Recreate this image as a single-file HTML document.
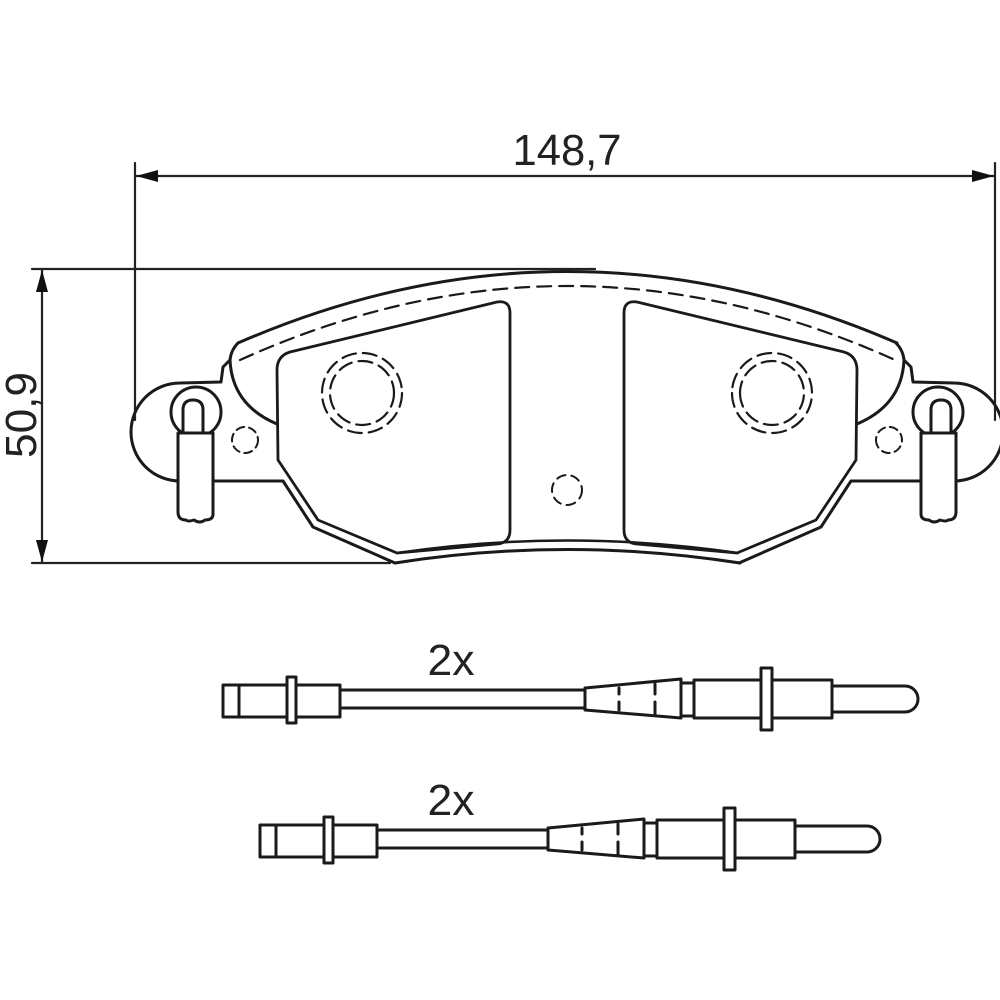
<!DOCTYPE html>
<html><head><style>html,body{margin:0;padding:0;background:#fff}svg{display:block}</style></head>
<body>
<svg width="1000" height="1000" viewBox="0 0 1000 1000" xmlns="http://www.w3.org/2000/svg" fill="none" stroke="#1a1a1a" stroke-linejoin="round" stroke-linecap="round">
<g stroke-width="2.2" stroke="#222">
<line x1="135" y1="163" x2="135" y2="420"/>
<line x1="995" y1="163" x2="995" y2="420"/>
<line x1="135" y1="176" x2="995" y2="176"/>
<line x1="32" y1="269" x2="595" y2="269"/>
<line x1="32" y1="563" x2="390" y2="563"/>
<line x1="42" y1="269" x2="42" y2="563"/>
</g>
<g fill="#111" stroke="none">
<polygon points="136,176 158,170 158,182"/>
<polygon points="994,176 972,170 972,182"/>
<polygon points="42,270 36,292 48,292"/>
<polygon points="42,562 36,540 48,540"/>
</g>
<g fill="#222" stroke="none" font-family="Liberation Sans, sans-serif" font-size="44">
<text x="567" y="165" text-anchor="middle" textLength="109" lengthAdjust="spacingAndGlyphs">148,7</text>
<text transform="translate(36,415) rotate(-90)" text-anchor="middle" textLength="86" lengthAdjust="spacingAndGlyphs">50,9</text>
<text x="451" y="675" text-anchor="middle" textLength="47" lengthAdjust="spacingAndGlyphs">2x</text>
<text x="451" y="815" text-anchor="middle" textLength="47" lengthAdjust="spacingAndGlyphs">2x</text>
</g>
<g stroke-width="3">
<path d="M238,343 Q567,200 897,343"/>
<path d="M240,360 Q567,212 895,360" stroke-width="2.2" stroke-dasharray="14,8"/>
<path d="M395,563 Q567,536 740,563"/>
<path d="M397,553 Q567,528 738,553" stroke-width="2.5"/>
</g>
<g id="half" stroke-width="3">
<path d="M238,343 Q231,350 230,360 L223,367 L221,382 L180,383 A49,49 0 0 0 180,481 L283,481 L313,527 L395,563"/>
<path d="M230,360 Q232,405 277,424"/>
<path d="M290,352 L497,302 Q510,300 510,313 L510,530 Q510,543 497,544 L397,553 L318,520 L278,460 L277,370 Q277,356 290,352 Z" stroke-width="2.8"/>
<circle cx="196" cy="412" r="25" fill="#fff"/>
<path d="M183,433 L183,410 Q183,400 193,400 Q203,400 203,410 L203,433" fill="#fff"/>
<path d="M178,433 L213,433 L213,514 Q213,520 205,520 Q200,524 194,520 Q188,522 186,520 Q178,520 178,512 Z" fill="#fff"/>
<circle cx="245" cy="440" r="13" stroke-width="2" stroke-dasharray="8,5"/>
<circle cx="362" cy="393" r="40" stroke-width="2.2" stroke-dasharray="14,7"/>
<circle cx="362" cy="393" r="32" stroke-width="2.2" stroke-dasharray="14,7"/>
</g>
<use href="#half" transform="translate(1134,0) scale(-1,1)"/>
<circle cx="567" cy="490" r="15" stroke-width="2" stroke-dasharray="9,6"/>
<g id="sensL" stroke-width="3" fill="#fff">
<rect x="223" y="685" width="16" height="32"/>
<rect x="239" y="685" width="48" height="32"/>
<rect x="287" y="677" width="9" height="46"/>
<rect x="296" y="685" width="44" height="32"/>
</g>
<g stroke-width="3" fill="#fff">
<path d="M340,690 L585,690 M340,708 L585,708"/>
<path d="M585,688 L681,679 L681,718 L585,710 Z"/>
<path d="M619,688 L619,694 M619,702 L619,710 M655,684 L655,694 M655,702 L655,714"/>
<rect x="681" y="683" width="13" height="33"/>
<rect x="694" y="680" width="138" height="38"/>
<rect x="761" y="668" width="11" height="62"/>
<path d="M832,686 L905,686 A13,13 0 0 1 905,712 L832,712 Z"/>
</g>
<use href="#sensL" transform="translate(37,140)"/>
<g stroke-width="3" fill="#fff">
<path d="M377,830 L548,830 M377,848 L548,848"/>
<path d="M548,828 L644,819 L644,858 L548,850 Z"/>
<path d="M582,828 L582,834 M582,842 L582,850 M618,824 L618,834 M618,842 L618,854"/>
<rect x="644" y="823" width="13" height="33"/>
<rect x="657" y="820" width="138" height="38"/>
<rect x="724" y="808" width="11" height="62"/>
<path d="M795,826 L867,826 A13,13 0 0 1 867,852 L795,852 Z"/>
</g>
</svg>
</body></html>
